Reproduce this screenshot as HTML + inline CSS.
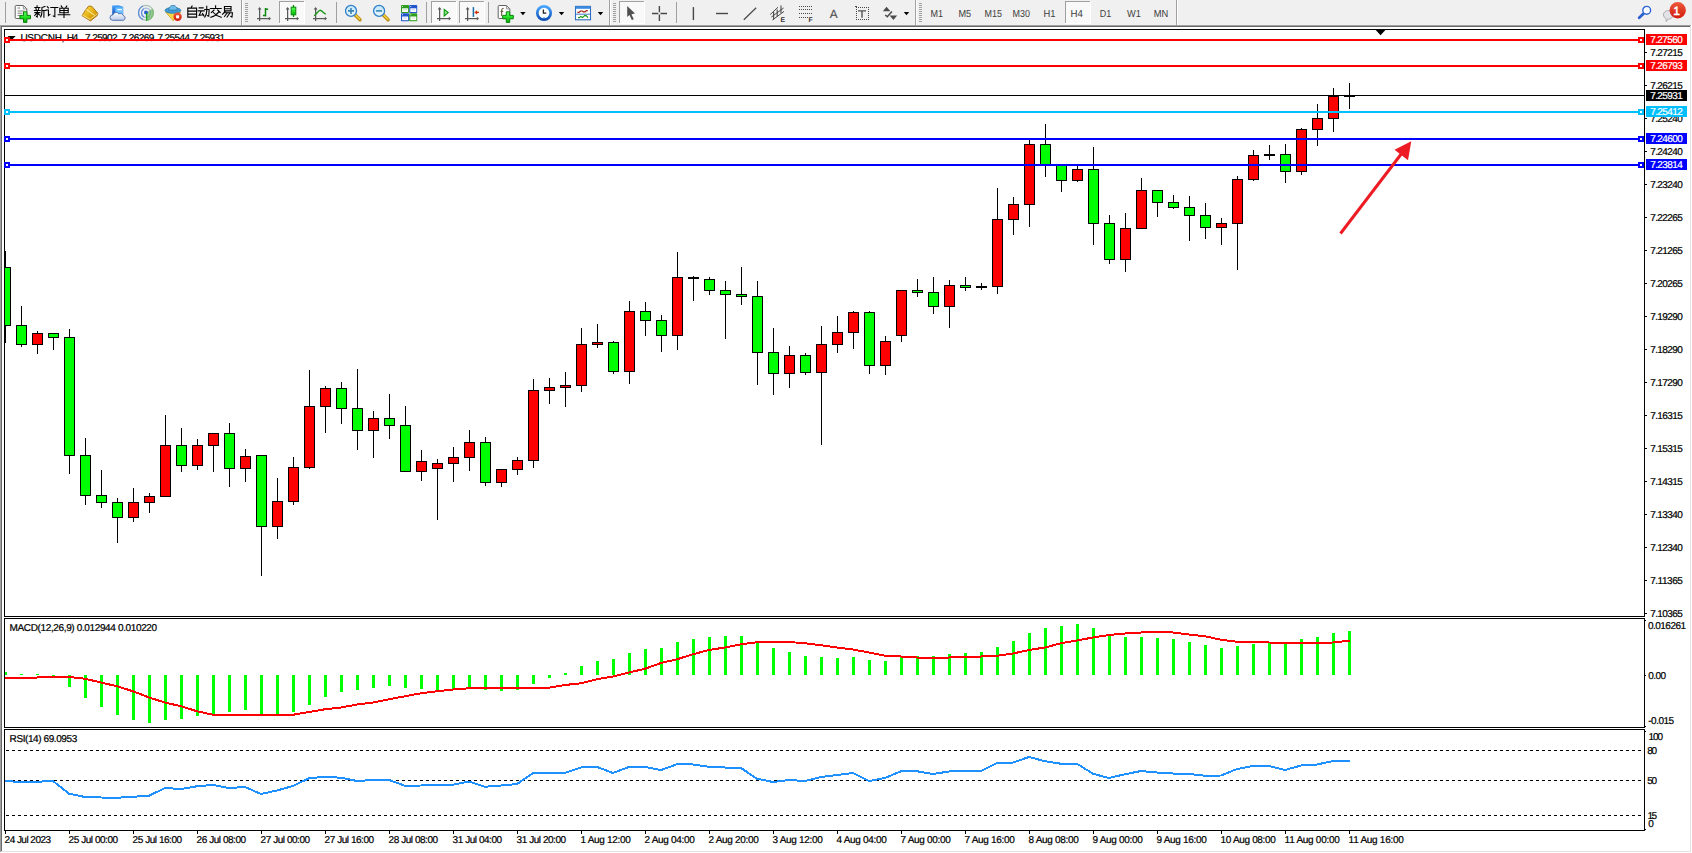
<!DOCTYPE html>
<html><head><meta charset="utf-8"><title>USDCNH,H4</title>
<style>
html,body{margin:0;padding:0;background:#f0f0f0;}
body{width:1692px;height:853px;overflow:hidden;position:relative;font-family:"Liberation Sans",sans-serif;}
svg.chart{position:absolute;left:0;top:0;}
svg.tb{position:absolute;left:0;top:0;}
</style></head><body>
<svg class="chart" width="1692" height="853" viewBox="0 0 1692 853" font-family="Liberation Sans, sans-serif" text-rendering="geometricPrecision">
<rect x="0" y="25" width="1691" height="1" fill="#a0a0a0"/>
<rect x="0" y="25" width="1" height="828" fill="#a0a0a0"/>
<rect x="1" y="26" width="1689" height="1" fill="#696969"/>
<rect x="1" y="26" width="1" height="826" fill="#696969"/>
<rect x="2" y="27" width="1688" height="824" fill="#ffffff"/>
<rect x="1690" y="26" width="1" height="826" fill="#e3e3e3"/>
<rect x="1" y="851" width="1690" height="1" fill="#e3e3e3"/>
<rect x="1691" y="25" width="1" height="828" fill="#ffffff"/>
<rect x="0" y="852" width="1692" height="1" fill="#ffffff"/>
<g shape-rendering="crispEdges">
<rect x="4" y="29" width="1641" height="1" fill="#000"/>
<rect x="4" y="616" width="1641" height="1" fill="#000"/>
<rect x="4" y="29" width="1" height="588" fill="#000"/>
<rect x="1644" y="29" width="1" height="588" fill="#000"/>
<rect x="4" y="618" width="1641" height="1" fill="#000"/>
<rect x="4" y="727" width="1641" height="1" fill="#000"/>
<rect x="4" y="618" width="1" height="110" fill="#000"/>
<rect x="1644" y="618" width="1" height="110" fill="#000"/>
<rect x="4" y="729" width="1641" height="1" fill="#000"/>
<rect x="4" y="830" width="1641" height="1" fill="#000"/>
<rect x="4" y="729" width="1" height="102" fill="#000"/>
<rect x="1644" y="729" width="1" height="102" fill="#000"/>
</g>
<text x="20.4" y="41.0" font-size="10" fill="#000" stroke="#000" stroke-width="0.22" textLength="44" lengthAdjust="spacing">USDCNH,</text>
<text x="66.7" y="41.0" font-size="10" fill="#000" stroke="#000" stroke-width="0.22" textLength="11.6" lengthAdjust="spacing">H4</text>
<text x="85" y="41.0" font-size="10" fill="#000" stroke="#000" stroke-width="0.22" textLength="32.6" lengthAdjust="spacing">7.25902</text>
<text x="121.6" y="41.0" font-size="10" fill="#000" stroke="#000" stroke-width="0.22" textLength="32.6" lengthAdjust="spacing">7.26269</text>
<text x="157.4" y="41.0" font-size="10" fill="#000" stroke="#000" stroke-width="0.22" textLength="32.6" lengthAdjust="spacing">7.25544</text>
<text x="192.5" y="41.0" font-size="10" fill="#000" stroke="#000" stroke-width="0.22" textLength="32.6" lengthAdjust="spacing">7.25931</text>
<path d="M7.6 36h8l-4 4.2z" fill="#000"/>
<g shape-rendering="crispEdges">
<clipPath id="cp"><rect x="5" y="30" width="1639" height="586"/></clipPath>
<g clip-path="url(#cp)">
<rect x="5" y="251" width="1" height="92" fill="#000"/>
<rect x="0" y="267" width="11" height="59" fill="#000"/>
<rect x="1" y="268" width="9" height="57" fill="#00ff00"/>
<rect x="21" y="306" width="1" height="41" fill="#000"/>
<rect x="16" y="325" width="11" height="20" fill="#000"/>
<rect x="17" y="326" width="9" height="18" fill="#00ff00"/>
<rect x="37" y="331" width="1" height="23" fill="#000"/>
<rect x="32" y="333" width="11" height="12" fill="#000"/>
<rect x="33" y="334" width="9" height="10" fill="#ff0000"/>
<rect x="53" y="333" width="1" height="17" fill="#000"/>
<rect x="48" y="333" width="11" height="5" fill="#000"/>
<rect x="49" y="334" width="9" height="3" fill="#00ff00"/>
<rect x="69" y="329" width="1" height="145" fill="#000"/>
<rect x="64" y="337" width="11" height="119" fill="#000"/>
<rect x="65" y="338" width="9" height="117" fill="#00ff00"/>
<rect x="85" y="438" width="1" height="67" fill="#000"/>
<rect x="80" y="455" width="11" height="41" fill="#000"/>
<rect x="81" y="456" width="9" height="39" fill="#00ff00"/>
<rect x="101" y="470" width="1" height="38" fill="#000"/>
<rect x="96" y="495" width="11" height="8" fill="#000"/>
<rect x="97" y="496" width="9" height="6" fill="#00ff00"/>
<rect x="117" y="498" width="1" height="45" fill="#000"/>
<rect x="112" y="502" width="11" height="16" fill="#000"/>
<rect x="113" y="503" width="9" height="14" fill="#00ff00"/>
<rect x="133" y="488" width="1" height="34" fill="#000"/>
<rect x="128" y="502" width="11" height="16" fill="#000"/>
<rect x="129" y="503" width="9" height="14" fill="#ff0000"/>
<rect x="149" y="493" width="1" height="20" fill="#000"/>
<rect x="144" y="496" width="11" height="7" fill="#000"/>
<rect x="145" y="497" width="9" height="5" fill="#ff0000"/>
<rect x="165" y="415" width="1" height="82" fill="#000"/>
<rect x="160" y="445" width="11" height="52" fill="#000"/>
<rect x="161" y="446" width="9" height="50" fill="#ff0000"/>
<rect x="181" y="428" width="1" height="44" fill="#000"/>
<rect x="176" y="445" width="11" height="21" fill="#000"/>
<rect x="177" y="446" width="9" height="19" fill="#00ff00"/>
<rect x="197" y="439" width="1" height="31" fill="#000"/>
<rect x="192" y="445" width="11" height="21" fill="#000"/>
<rect x="193" y="446" width="9" height="19" fill="#ff0000"/>
<rect x="213" y="433" width="1" height="39" fill="#000"/>
<rect x="208" y="433" width="11" height="13" fill="#000"/>
<rect x="209" y="434" width="9" height="11" fill="#ff0000"/>
<rect x="229" y="423" width="1" height="64" fill="#000"/>
<rect x="224" y="433" width="11" height="36" fill="#000"/>
<rect x="225" y="434" width="9" height="34" fill="#00ff00"/>
<rect x="245" y="449" width="1" height="33" fill="#000"/>
<rect x="240" y="456" width="11" height="13" fill="#000"/>
<rect x="241" y="457" width="9" height="11" fill="#ff0000"/>
<rect x="261" y="455" width="1" height="121" fill="#000"/>
<rect x="256" y="455" width="11" height="72" fill="#000"/>
<rect x="257" y="456" width="9" height="70" fill="#00ff00"/>
<rect x="277" y="478" width="1" height="61" fill="#000"/>
<rect x="272" y="501" width="11" height="26" fill="#000"/>
<rect x="273" y="502" width="9" height="24" fill="#ff0000"/>
<rect x="293" y="457" width="1" height="48" fill="#000"/>
<rect x="288" y="467" width="11" height="35" fill="#000"/>
<rect x="289" y="468" width="9" height="33" fill="#ff0000"/>
<rect x="309" y="370" width="1" height="99" fill="#000"/>
<rect x="304" y="406" width="11" height="62" fill="#000"/>
<rect x="305" y="407" width="9" height="60" fill="#ff0000"/>
<rect x="325" y="386" width="1" height="47" fill="#000"/>
<rect x="320" y="388" width="11" height="19" fill="#000"/>
<rect x="321" y="389" width="9" height="17" fill="#ff0000"/>
<rect x="341" y="382" width="1" height="42" fill="#000"/>
<rect x="336" y="388" width="11" height="21" fill="#000"/>
<rect x="337" y="389" width="9" height="19" fill="#00ff00"/>
<rect x="357" y="369" width="1" height="81" fill="#000"/>
<rect x="352" y="408" width="11" height="23" fill="#000"/>
<rect x="353" y="409" width="9" height="21" fill="#00ff00"/>
<rect x="373" y="411" width="1" height="47" fill="#000"/>
<rect x="368" y="418" width="11" height="13" fill="#000"/>
<rect x="369" y="419" width="9" height="11" fill="#ff0000"/>
<rect x="389" y="394" width="1" height="45" fill="#000"/>
<rect x="384" y="418" width="11" height="8" fill="#000"/>
<rect x="385" y="419" width="9" height="6" fill="#00ff00"/>
<rect x="405" y="406" width="1" height="66" fill="#000"/>
<rect x="400" y="425" width="11" height="47" fill="#000"/>
<rect x="401" y="426" width="9" height="45" fill="#00ff00"/>
<rect x="421" y="450" width="1" height="31" fill="#000"/>
<rect x="416" y="461" width="11" height="11" fill="#000"/>
<rect x="417" y="462" width="9" height="9" fill="#ff0000"/>
<rect x="437" y="459" width="1" height="61" fill="#000"/>
<rect x="432" y="463" width="11" height="6" fill="#000"/>
<rect x="433" y="464" width="9" height="4" fill="#ff0000"/>
<rect x="453" y="447" width="1" height="35" fill="#000"/>
<rect x="448" y="457" width="11" height="7" fill="#000"/>
<rect x="449" y="458" width="9" height="5" fill="#ff0000"/>
<rect x="469" y="430" width="1" height="41" fill="#000"/>
<rect x="464" y="442" width="11" height="16" fill="#000"/>
<rect x="465" y="443" width="9" height="14" fill="#ff0000"/>
<rect x="485" y="437" width="1" height="49" fill="#000"/>
<rect x="480" y="442" width="11" height="41" fill="#000"/>
<rect x="481" y="443" width="9" height="39" fill="#00ff00"/>
<rect x="501" y="469" width="1" height="18" fill="#000"/>
<rect x="496" y="469" width="11" height="14" fill="#000"/>
<rect x="497" y="470" width="9" height="12" fill="#ff0000"/>
<rect x="517" y="457" width="1" height="18" fill="#000"/>
<rect x="512" y="460" width="11" height="10" fill="#000"/>
<rect x="513" y="461" width="9" height="8" fill="#ff0000"/>
<rect x="533" y="379" width="1" height="89" fill="#000"/>
<rect x="528" y="390" width="11" height="71" fill="#000"/>
<rect x="529" y="391" width="9" height="69" fill="#ff0000"/>
<rect x="549" y="378" width="1" height="26" fill="#000"/>
<rect x="544" y="387" width="11" height="4" fill="#000"/>
<rect x="545" y="388" width="9" height="2" fill="#ff0000"/>
<rect x="565" y="372" width="1" height="35" fill="#000"/>
<rect x="560" y="385" width="11" height="3" fill="#000"/>
<rect x="561" y="386" width="9" height="1" fill="#ff0000"/>
<rect x="581" y="328" width="1" height="64" fill="#000"/>
<rect x="576" y="344" width="11" height="42" fill="#000"/>
<rect x="577" y="345" width="9" height="40" fill="#ff0000"/>
<rect x="597" y="324" width="1" height="24" fill="#000"/>
<rect x="592" y="342" width="11" height="3" fill="#000"/>
<rect x="593" y="343" width="9" height="1" fill="#ff0000"/>
<rect x="613" y="341" width="1" height="33" fill="#000"/>
<rect x="608" y="342" width="11" height="30" fill="#000"/>
<rect x="609" y="343" width="9" height="28" fill="#00ff00"/>
<rect x="629" y="301" width="1" height="83" fill="#000"/>
<rect x="624" y="311" width="11" height="61" fill="#000"/>
<rect x="625" y="312" width="9" height="59" fill="#ff0000"/>
<rect x="645" y="302" width="1" height="34" fill="#000"/>
<rect x="640" y="311" width="11" height="10" fill="#000"/>
<rect x="641" y="312" width="9" height="8" fill="#00ff00"/>
<rect x="661" y="315" width="1" height="37" fill="#000"/>
<rect x="656" y="320" width="11" height="16" fill="#000"/>
<rect x="657" y="321" width="9" height="14" fill="#00ff00"/>
<rect x="677" y="252" width="1" height="98" fill="#000"/>
<rect x="672" y="277" width="11" height="59" fill="#000"/>
<rect x="673" y="278" width="9" height="57" fill="#ff0000"/>
<rect x="693" y="276" width="1" height="25" fill="#000"/>
<rect x="688" y="277" width="11" height="2" fill="#000"/>
<rect x="709" y="277" width="1" height="18" fill="#000"/>
<rect x="704" y="279" width="11" height="12" fill="#000"/>
<rect x="705" y="280" width="9" height="10" fill="#00ff00"/>
<rect x="725" y="281" width="1" height="58" fill="#000"/>
<rect x="720" y="290" width="11" height="5" fill="#000"/>
<rect x="721" y="291" width="9" height="3" fill="#00ff00"/>
<rect x="741" y="267" width="1" height="38" fill="#000"/>
<rect x="736" y="294" width="11" height="3" fill="#000"/>
<rect x="737" y="295" width="9" height="1" fill="#00ff00"/>
<rect x="757" y="281" width="1" height="104" fill="#000"/>
<rect x="752" y="296" width="11" height="57" fill="#000"/>
<rect x="753" y="297" width="9" height="55" fill="#00ff00"/>
<rect x="773" y="328" width="1" height="67" fill="#000"/>
<rect x="768" y="352" width="11" height="22" fill="#000"/>
<rect x="769" y="353" width="9" height="20" fill="#00ff00"/>
<rect x="789" y="346" width="1" height="42" fill="#000"/>
<rect x="784" y="355" width="11" height="19" fill="#000"/>
<rect x="785" y="356" width="9" height="17" fill="#ff0000"/>
<rect x="805" y="353" width="1" height="22" fill="#000"/>
<rect x="800" y="355" width="11" height="18" fill="#000"/>
<rect x="801" y="356" width="9" height="16" fill="#00ff00"/>
<rect x="821" y="326" width="1" height="119" fill="#000"/>
<rect x="816" y="344" width="11" height="29" fill="#000"/>
<rect x="817" y="345" width="9" height="27" fill="#ff0000"/>
<rect x="837" y="316" width="1" height="37" fill="#000"/>
<rect x="832" y="332" width="11" height="13" fill="#000"/>
<rect x="833" y="333" width="9" height="11" fill="#ff0000"/>
<rect x="853" y="311" width="1" height="38" fill="#000"/>
<rect x="848" y="312" width="11" height="21" fill="#000"/>
<rect x="849" y="313" width="9" height="19" fill="#ff0000"/>
<rect x="869" y="311" width="1" height="63" fill="#000"/>
<rect x="864" y="312" width="11" height="54" fill="#000"/>
<rect x="865" y="313" width="9" height="52" fill="#00ff00"/>
<rect x="885" y="336" width="1" height="39" fill="#000"/>
<rect x="880" y="341" width="11" height="25" fill="#000"/>
<rect x="881" y="342" width="9" height="23" fill="#ff0000"/>
<rect x="901" y="290" width="1" height="52" fill="#000"/>
<rect x="896" y="290" width="11" height="46" fill="#000"/>
<rect x="897" y="291" width="9" height="44" fill="#ff0000"/>
<rect x="917" y="279" width="1" height="18" fill="#000"/>
<rect x="912" y="290" width="11" height="3" fill="#000"/>
<rect x="913" y="291" width="9" height="1" fill="#00ff00"/>
<rect x="933" y="277" width="1" height="37" fill="#000"/>
<rect x="928" y="292" width="11" height="15" fill="#000"/>
<rect x="929" y="293" width="9" height="13" fill="#00ff00"/>
<rect x="949" y="280" width="1" height="48" fill="#000"/>
<rect x="944" y="285" width="11" height="22" fill="#000"/>
<rect x="945" y="286" width="9" height="20" fill="#ff0000"/>
<rect x="965" y="277" width="1" height="14" fill="#000"/>
<rect x="960" y="285" width="11" height="3" fill="#000"/>
<rect x="961" y="286" width="9" height="1" fill="#00ff00"/>
<rect x="981" y="283" width="1" height="7" fill="#000"/>
<rect x="976" y="286" width="11" height="2" fill="#000"/>
<rect x="997" y="188" width="1" height="106" fill="#000"/>
<rect x="992" y="219" width="11" height="68" fill="#000"/>
<rect x="993" y="220" width="9" height="66" fill="#ff0000"/>
<rect x="1013" y="197" width="1" height="38" fill="#000"/>
<rect x="1008" y="204" width="11" height="16" fill="#000"/>
<rect x="1009" y="205" width="9" height="14" fill="#ff0000"/>
<rect x="1029" y="140" width="1" height="87" fill="#000"/>
<rect x="1024" y="144" width="11" height="61" fill="#000"/>
<rect x="1025" y="145" width="9" height="59" fill="#ff0000"/>
<rect x="1045" y="124" width="1" height="53" fill="#000"/>
<rect x="1040" y="144" width="11" height="21" fill="#000"/>
<rect x="1041" y="145" width="9" height="19" fill="#00ff00"/>
<rect x="1061" y="164" width="1" height="28" fill="#000"/>
<rect x="1056" y="164" width="11" height="17" fill="#000"/>
<rect x="1057" y="165" width="9" height="15" fill="#00ff00"/>
<rect x="1077" y="166" width="1" height="16" fill="#000"/>
<rect x="1072" y="169" width="11" height="12" fill="#000"/>
<rect x="1073" y="170" width="9" height="10" fill="#ff0000"/>
<rect x="1093" y="147" width="1" height="98" fill="#000"/>
<rect x="1088" y="169" width="11" height="55" fill="#000"/>
<rect x="1089" y="170" width="9" height="53" fill="#00ff00"/>
<rect x="1109" y="215" width="1" height="49" fill="#000"/>
<rect x="1104" y="223" width="11" height="37" fill="#000"/>
<rect x="1105" y="224" width="9" height="35" fill="#00ff00"/>
<rect x="1125" y="213" width="1" height="59" fill="#000"/>
<rect x="1120" y="228" width="11" height="32" fill="#000"/>
<rect x="1121" y="229" width="9" height="30" fill="#ff0000"/>
<rect x="1141" y="178" width="1" height="51" fill="#000"/>
<rect x="1136" y="190" width="11" height="39" fill="#000"/>
<rect x="1137" y="191" width="9" height="37" fill="#ff0000"/>
<rect x="1157" y="190" width="1" height="27" fill="#000"/>
<rect x="1152" y="190" width="11" height="13" fill="#000"/>
<rect x="1153" y="191" width="9" height="11" fill="#00ff00"/>
<rect x="1173" y="195" width="1" height="14" fill="#000"/>
<rect x="1168" y="202" width="11" height="6" fill="#000"/>
<rect x="1169" y="203" width="9" height="4" fill="#00ff00"/>
<rect x="1189" y="196" width="1" height="45" fill="#000"/>
<rect x="1184" y="207" width="11" height="9" fill="#000"/>
<rect x="1185" y="208" width="9" height="7" fill="#00ff00"/>
<rect x="1205" y="203" width="1" height="36" fill="#000"/>
<rect x="1200" y="215" width="11" height="13" fill="#000"/>
<rect x="1201" y="216" width="9" height="11" fill="#00ff00"/>
<rect x="1221" y="218" width="1" height="27" fill="#000"/>
<rect x="1216" y="223" width="11" height="5" fill="#000"/>
<rect x="1217" y="224" width="9" height="3" fill="#ff0000"/>
<rect x="1237" y="176" width="1" height="94" fill="#000"/>
<rect x="1232" y="179" width="11" height="45" fill="#000"/>
<rect x="1233" y="180" width="9" height="43" fill="#ff0000"/>
<rect x="1253" y="150" width="1" height="31" fill="#000"/>
<rect x="1248" y="155" width="11" height="25" fill="#000"/>
<rect x="1249" y="156" width="9" height="23" fill="#ff0000"/>
<rect x="1269" y="145" width="1" height="15" fill="#000"/>
<rect x="1264" y="154" width="11" height="2" fill="#000"/>
<rect x="1285" y="144" width="1" height="39" fill="#000"/>
<rect x="1280" y="154" width="11" height="18" fill="#000"/>
<rect x="1281" y="155" width="9" height="16" fill="#00ff00"/>
<rect x="1301" y="128" width="1" height="47" fill="#000"/>
<rect x="1296" y="129" width="11" height="43" fill="#000"/>
<rect x="1297" y="130" width="9" height="41" fill="#ff0000"/>
<rect x="1317" y="104" width="1" height="42" fill="#000"/>
<rect x="1312" y="118" width="11" height="12" fill="#000"/>
<rect x="1313" y="119" width="9" height="10" fill="#ff0000"/>
<rect x="1333" y="88" width="1" height="44" fill="#000"/>
<rect x="1328" y="96" width="11" height="23" fill="#000"/>
<rect x="1329" y="97" width="9" height="21" fill="#ff0000"/>
<rect x="1349" y="83" width="1" height="26" fill="#000"/>
<rect x="1344" y="96" width="11" height="1" fill="#000"/>
</g>
<rect x="5" y="95" width="1639" height="1" fill="#000"/>
<rect x="5" y="39" width="1639" height="2" fill="#ff0000"/>
<rect x="4" y="37" width="6" height="6" fill="#ff0000"/>
<rect x="6" y="39" width="2" height="2" fill="#fff"/>
<rect x="1638" y="37" width="6" height="6" fill="#ff0000"/>
<rect x="1640" y="39" width="2" height="2" fill="#fff"/>
<rect x="5" y="65" width="1639" height="2" fill="#ff0000"/>
<rect x="4" y="63" width="6" height="6" fill="#ff0000"/>
<rect x="6" y="65" width="2" height="2" fill="#fff"/>
<rect x="1638" y="63" width="6" height="6" fill="#ff0000"/>
<rect x="1640" y="65" width="2" height="2" fill="#fff"/>
<rect x="5" y="111" width="1639" height="2" fill="#00bfff"/>
<rect x="4" y="109" width="6" height="6" fill="#00bfff"/>
<rect x="6" y="111" width="2" height="2" fill="#fff"/>
<rect x="1638" y="109" width="6" height="6" fill="#00bfff"/>
<rect x="1640" y="111" width="2" height="2" fill="#fff"/>
<rect x="5" y="138" width="1639" height="2" fill="#0000ff"/>
<rect x="4" y="136" width="6" height="6" fill="#0000ff"/>
<rect x="6" y="138" width="2" height="2" fill="#fff"/>
<rect x="1638" y="136" width="6" height="6" fill="#0000ff"/>
<rect x="1640" y="138" width="2" height="2" fill="#fff"/>
<rect x="5" y="164" width="1639" height="2" fill="#0000ff"/>
<rect x="4" y="162" width="6" height="6" fill="#0000ff"/>
<rect x="6" y="164" width="2" height="2" fill="#fff"/>
<rect x="1638" y="162" width="6" height="6" fill="#0000ff"/>
<rect x="1640" y="164" width="2" height="2" fill="#fff"/>
</g>
<path d="M1375.7 30h9.7l-4.85 5.3z" fill="#000"/>
<g shape-rendering="crispEdges">
<rect x="1645" y="52" width="2" height="1" fill="#000"/>
<rect x="1645" y="85" width="2" height="1" fill="#000"/>
<rect x="1645" y="118" width="2" height="1" fill="#000"/>
<rect x="1645" y="151" width="2" height="1" fill="#000"/>
<rect x="1645" y="184" width="2" height="1" fill="#000"/>
<rect x="1645" y="217" width="2" height="1" fill="#000"/>
<rect x="1645" y="250" width="2" height="1" fill="#000"/>
<rect x="1645" y="283" width="2" height="1" fill="#000"/>
<rect x="1645" y="316" width="2" height="1" fill="#000"/>
<rect x="1645" y="349" width="2" height="1" fill="#000"/>
<rect x="1645" y="382" width="2" height="1" fill="#000"/>
<rect x="1645" y="415" width="2" height="1" fill="#000"/>
<rect x="1645" y="448" width="2" height="1" fill="#000"/>
<rect x="1645" y="481" width="2" height="1" fill="#000"/>
<rect x="1645" y="514" width="2" height="1" fill="#000"/>
<rect x="1645" y="547" width="2" height="1" fill="#000"/>
<rect x="1645" y="580" width="2" height="1" fill="#000"/>
<rect x="1645" y="613" width="2" height="1" fill="#000"/>
</g>
<text x="1650.2" y="56.1" font-size="10" fill="#000" stroke="#000" stroke-width="0.22" textLength="32.6" lengthAdjust="spacing">7.27215</text>
<text x="1650.2" y="89.1" font-size="10" fill="#000" stroke="#000" stroke-width="0.22" textLength="32.6" lengthAdjust="spacing">7.26215</text>
<text x="1650.2" y="122.1" font-size="10" fill="#000" stroke="#000" stroke-width="0.22" textLength="32.6" lengthAdjust="spacing">7.25240</text>
<text x="1650.2" y="155.1" font-size="10" fill="#000" stroke="#000" stroke-width="0.22" textLength="32.6" lengthAdjust="spacing">7.24240</text>
<text x="1650.2" y="188.1" font-size="10" fill="#000" stroke="#000" stroke-width="0.22" textLength="32.6" lengthAdjust="spacing">7.23240</text>
<text x="1650.2" y="221.1" font-size="10" fill="#000" stroke="#000" stroke-width="0.22" textLength="32.6" lengthAdjust="spacing">7.22265</text>
<text x="1650.2" y="254.1" font-size="10" fill="#000" stroke="#000" stroke-width="0.22" textLength="32.6" lengthAdjust="spacing">7.21265</text>
<text x="1650.2" y="287.1" font-size="10" fill="#000" stroke="#000" stroke-width="0.22" textLength="32.6" lengthAdjust="spacing">7.20265</text>
<text x="1650.2" y="320.1" font-size="10" fill="#000" stroke="#000" stroke-width="0.22" textLength="32.6" lengthAdjust="spacing">7.19290</text>
<text x="1650.2" y="353.1" font-size="10" fill="#000" stroke="#000" stroke-width="0.22" textLength="32.6" lengthAdjust="spacing">7.18290</text>
<text x="1650.2" y="386.1" font-size="10" fill="#000" stroke="#000" stroke-width="0.22" textLength="32.6" lengthAdjust="spacing">7.17290</text>
<text x="1650.2" y="419.1" font-size="10" fill="#000" stroke="#000" stroke-width="0.22" textLength="32.6" lengthAdjust="spacing">7.16315</text>
<text x="1650.2" y="452.1" font-size="10" fill="#000" stroke="#000" stroke-width="0.22" textLength="32.6" lengthAdjust="spacing">7.15315</text>
<text x="1650.2" y="485.1" font-size="10" fill="#000" stroke="#000" stroke-width="0.22" textLength="32.6" lengthAdjust="spacing">7.14315</text>
<text x="1650.2" y="518.1" font-size="10" fill="#000" stroke="#000" stroke-width="0.22" textLength="32.6" lengthAdjust="spacing">7.13340</text>
<text x="1650.2" y="551.1" font-size="10" fill="#000" stroke="#000" stroke-width="0.22" textLength="32.6" lengthAdjust="spacing">7.12340</text>
<text x="1650.2" y="584.1" font-size="10" fill="#000" stroke="#000" stroke-width="0.22" textLength="32.6" lengthAdjust="spacing">7.11365</text>
<text x="1650.2" y="617.1" font-size="10" fill="#000" stroke="#000" stroke-width="0.22" textLength="32.6" lengthAdjust="spacing">7.10365</text>
<rect x="1646" y="34" width="41" height="11" fill="#ff0000" shape-rendering="crispEdges"/>
<text x="1650.2" y="43.1" font-size="10" fill="#fff" stroke="#fff" stroke-width="0.22" textLength="32.6" lengthAdjust="spacing">7.27560</text>
<rect x="1646" y="60" width="41" height="11" fill="#ff0000" shape-rendering="crispEdges"/>
<text x="1650.2" y="69.1" font-size="10" fill="#fff" stroke="#fff" stroke-width="0.22" textLength="32.6" lengthAdjust="spacing">7.26793</text>
<rect x="1646" y="90" width="41" height="11" fill="#000000" shape-rendering="crispEdges"/>
<text x="1650.2" y="99.1" font-size="10" fill="#fff" stroke="#fff" stroke-width="0.22" textLength="32.6" lengthAdjust="spacing">7.25931</text>
<rect x="1646" y="106" width="41" height="11" fill="#00bfff" shape-rendering="crispEdges"/>
<text x="1650.2" y="115.1" font-size="10" fill="#fff" stroke="#fff" stroke-width="0.22" textLength="32.6" lengthAdjust="spacing">7.25412</text>
<rect x="1646" y="133" width="41" height="11" fill="#0000ff" shape-rendering="crispEdges"/>
<text x="1650.2" y="142.1" font-size="10" fill="#fff" stroke="#fff" stroke-width="0.22" textLength="32.6" lengthAdjust="spacing">7.24600</text>
<rect x="1646" y="159" width="41" height="11" fill="#0000ff" shape-rendering="crispEdges"/>
<text x="1650.2" y="168.1" font-size="10" fill="#fff" stroke="#fff" stroke-width="0.22" textLength="32.6" lengthAdjust="spacing">7.23814</text>
<g stroke="#ed1c24" fill="#ed1c24"><line x1="1340.5" y1="233.5" x2="1402" y2="153" stroke-width="3"/><path d="M1411.3 141.3L1394.5 149.8L1408 160.2z" stroke="none"/></g>
<g shape-rendering="crispEdges">
<rect x="5" y="672" width="2" height="3" fill="#00ff00"/>
<rect x="20" y="674" width="3" height="1" fill="#00ff00"/>
<rect x="36" y="674" width="3" height="1" fill="#00ff00"/>
<rect x="52" y="675" width="3" height="2" fill="#00ff00"/>
<rect x="68" y="675" width="3" height="12" fill="#00ff00"/>
<rect x="84" y="675" width="3" height="23" fill="#00ff00"/>
<rect x="100" y="675" width="3" height="32" fill="#00ff00"/>
<rect x="116" y="675" width="3" height="40" fill="#00ff00"/>
<rect x="132" y="675" width="3" height="45" fill="#00ff00"/>
<rect x="148" y="675" width="3" height="48" fill="#00ff00"/>
<rect x="164" y="675" width="3" height="45" fill="#00ff00"/>
<rect x="180" y="675" width="3" height="44" fill="#00ff00"/>
<rect x="196" y="675" width="3" height="41" fill="#00ff00"/>
<rect x="212" y="675" width="3" height="39" fill="#00ff00"/>
<rect x="228" y="675" width="3" height="37" fill="#00ff00"/>
<rect x="244" y="675" width="3" height="35" fill="#00ff00"/>
<rect x="260" y="675" width="3" height="39" fill="#00ff00"/>
<rect x="276" y="675" width="3" height="39" fill="#00ff00"/>
<rect x="292" y="675" width="3" height="37" fill="#00ff00"/>
<rect x="308" y="675" width="3" height="30" fill="#00ff00"/>
<rect x="324" y="675" width="3" height="22" fill="#00ff00"/>
<rect x="340" y="675" width="3" height="17" fill="#00ff00"/>
<rect x="356" y="675" width="3" height="15" fill="#00ff00"/>
<rect x="372" y="675" width="3" height="13" fill="#00ff00"/>
<rect x="388" y="675" width="3" height="11" fill="#00ff00"/>
<rect x="404" y="675" width="3" height="13" fill="#00ff00"/>
<rect x="420" y="675" width="3" height="14" fill="#00ff00"/>
<rect x="436" y="675" width="3" height="15" fill="#00ff00"/>
<rect x="452" y="675" width="3" height="15" fill="#00ff00"/>
<rect x="468" y="675" width="3" height="14" fill="#00ff00"/>
<rect x="484" y="675" width="3" height="15" fill="#00ff00"/>
<rect x="500" y="675" width="3" height="16" fill="#00ff00"/>
<rect x="516" y="675" width="3" height="15" fill="#00ff00"/>
<rect x="532" y="675" width="3" height="9" fill="#00ff00"/>
<rect x="548" y="675" width="3" height="3" fill="#00ff00"/>
<rect x="564" y="673" width="3" height="2" fill="#00ff00"/>
<rect x="580" y="666" width="3" height="9" fill="#00ff00"/>
<rect x="596" y="661" width="3" height="14" fill="#00ff00"/>
<rect x="612" y="659" width="3" height="16" fill="#00ff00"/>
<rect x="628" y="653" width="3" height="22" fill="#00ff00"/>
<rect x="644" y="649" width="3" height="26" fill="#00ff00"/>
<rect x="660" y="648" width="3" height="27" fill="#00ff00"/>
<rect x="676" y="642" width="3" height="33" fill="#00ff00"/>
<rect x="692" y="639" width="3" height="36" fill="#00ff00"/>
<rect x="708" y="637" width="3" height="38" fill="#00ff00"/>
<rect x="724" y="636" width="3" height="39" fill="#00ff00"/>
<rect x="740" y="636" width="3" height="39" fill="#00ff00"/>
<rect x="756" y="643" width="3" height="32" fill="#00ff00"/>
<rect x="772" y="648" width="3" height="27" fill="#00ff00"/>
<rect x="788" y="652" width="3" height="23" fill="#00ff00"/>
<rect x="804" y="656" width="3" height="19" fill="#00ff00"/>
<rect x="820" y="657" width="3" height="18" fill="#00ff00"/>
<rect x="836" y="658" width="3" height="17" fill="#00ff00"/>
<rect x="852" y="657" width="3" height="18" fill="#00ff00"/>
<rect x="868" y="660" width="3" height="15" fill="#00ff00"/>
<rect x="884" y="661" width="3" height="14" fill="#00ff00"/>
<rect x="900" y="657" width="3" height="18" fill="#00ff00"/>
<rect x="916" y="656" width="3" height="19" fill="#00ff00"/>
<rect x="932" y="656" width="3" height="19" fill="#00ff00"/>
<rect x="948" y="654" width="3" height="21" fill="#00ff00"/>
<rect x="964" y="653" width="3" height="22" fill="#00ff00"/>
<rect x="980" y="652" width="3" height="23" fill="#00ff00"/>
<rect x="996" y="647" width="3" height="28" fill="#00ff00"/>
<rect x="1012" y="641" width="3" height="34" fill="#00ff00"/>
<rect x="1028" y="633" width="3" height="42" fill="#00ff00"/>
<rect x="1044" y="628" width="3" height="47" fill="#00ff00"/>
<rect x="1060" y="626" width="3" height="49" fill="#00ff00"/>
<rect x="1076" y="624" width="3" height="51" fill="#00ff00"/>
<rect x="1092" y="628" width="3" height="47" fill="#00ff00"/>
<rect x="1108" y="634" width="3" height="41" fill="#00ff00"/>
<rect x="1124" y="637" width="3" height="38" fill="#00ff00"/>
<rect x="1140" y="637" width="3" height="38" fill="#00ff00"/>
<rect x="1156" y="638" width="3" height="37" fill="#00ff00"/>
<rect x="1172" y="639" width="3" height="36" fill="#00ff00"/>
<rect x="1188" y="642" width="3" height="33" fill="#00ff00"/>
<rect x="1204" y="645" width="3" height="30" fill="#00ff00"/>
<rect x="1220" y="648" width="3" height="27" fill="#00ff00"/>
<rect x="1236" y="646" width="3" height="29" fill="#00ff00"/>
<rect x="1252" y="644" width="3" height="31" fill="#00ff00"/>
<rect x="1268" y="642" width="3" height="33" fill="#00ff00"/>
<rect x="1284" y="643" width="3" height="32" fill="#00ff00"/>
<rect x="1300" y="639" width="3" height="36" fill="#00ff00"/>
<rect x="1316" y="637" width="3" height="38" fill="#00ff00"/>
<rect x="1332" y="633" width="3" height="42" fill="#00ff00"/>
<rect x="1348" y="631" width="3" height="44" fill="#00ff00"/>
<polyline points="5,678.25 21,678 37,677.5 53,677 69,677 85,678.75 101,682.5 117,686.25 133,691.25 149,697.5 165,702.5 181,706.25 197,711.25 213,714.75 229,714.75 245,714.75 261,714.75 277,714.75 293,714.75 309,712 325,709.25 341,707.5 357,704.5 373,702.5 389,699.25 405,696.25 421,693.25 437,691.25 453,689.5 469,688.25 485,688 501,688 517,688 533,688 549,687.75 565,685 581,683.25 597,679.25 613,676.5 629,672.5 645,668.75 661,663 677,659.25 693,654.25 709,650 725,647.5 741,644.25 757,642.25 773,642 789,642 805,643.25 821,645.25 837,647.5 853,649.5 869,652.5 885,655.75 901,656.5 917,657.5 933,657.5 949,657.5 965,657 981,656.5 997,655.75 1013,653.5 1029,650 1045,647.5 1061,643.25 1077,640.5 1093,637.5 1109,635 1125,633.5 1141,632.5 1157,632 1173,632.5 1189,634.5 1205,636.25 1221,639.75 1237,641.75 1253,642 1269,642.5 1285,642.75 1301,642.75 1317,642.75 1333,642.5 1349,640.75 1350,640.75" fill="none" stroke="#ff0000" stroke-width="2"/>
<rect x="1645" y="620" width="1" height="1" fill="#000"/>
<rect x="1645" y="675" width="1" height="1" fill="#000"/>
<rect x="1645" y="726" width="1" height="1" fill="#000"/>
<rect x="1645" y="731" width="1" height="1" fill="#000"/>
<rect x="1645" y="829" width="1" height="1" fill="#000"/>
</g>
<text x="9.5" y="631.2" font-size="10" fill="#000" stroke="#000" stroke-width="0.22" textLength="147.6" lengthAdjust="spacing">MACD(12,26,9) 0.012944 0.010220</text>
<text x="1648" y="629" font-size="10" fill="#000" stroke="#000" stroke-width="0.22" textLength="38" lengthAdjust="spacing">0.016261</text>
<text x="1648.3" y="679.2" font-size="10" fill="#000" stroke="#000" stroke-width="0.22" textLength="17.7" lengthAdjust="spacing">0.00</text>
<text x="1648.3" y="724.1" font-size="10" fill="#000" stroke="#000" stroke-width="0.22" textLength="25.7" lengthAdjust="spacing">-0.015</text>
<g shape-rendering="crispEdges">
<line x1="6" y1="750.5" x2="1644" y2="750.5" stroke="#000" stroke-width="1" stroke-dasharray="3 3"/>
<line x1="6" y1="780.5" x2="1644" y2="780.5" stroke="#000" stroke-width="1" stroke-dasharray="3 3"/>
<line x1="6" y1="815.5" x2="1644" y2="815.5" stroke="#000" stroke-width="1" stroke-dasharray="3 3"/>
<polyline points="5,781 21,782 37,781.75 53,781 69,793.75 85,797 101,797.5 117,797.75 133,796.75 149,795.75 165,788 181,789 197,786.25 213,785 229,788 245,787 261,794 277,790.5 293,786 309,778.25 325,776.75 341,777.75 357,781 373,780 389,780 405,785.75 421,785.5 437,785 453,784.75 469,781.5 485,786.75 501,785.5 517,784 533,773.25 549,773 565,772.75 581,767.5 597,767 613,773 629,767 645,767 661,770 677,764.25 693,764.5 709,766.75 725,767.5 741,768 757,778.75 773,782 789,780 805,781 821,777 837,775 853,773 869,781 885,778 901,771.25 917,771.25 933,774 949,771.5 965,771 981,771 997,763 1013,762.5 1029,757 1045,761.25 1061,763.75 1077,763.75 1093,773.75 1109,778 1125,774.25 1141,771 1157,772.5 1173,773.5 1189,774 1205,775.75 1221,775.5 1237,769 1253,766 1269,766 1285,770 1301,765.5 1317,764.5 1333,761 1349,760.75 1350,760.75" fill="none" stroke="#1e90ff" stroke-width="2"/>
</g>
<text x="9.6" y="741.8" font-size="10" fill="#000" stroke="#000" stroke-width="0.22" textLength="67.6" lengthAdjust="spacing">RSI(14) 69.0953</text>
<text x="1648.5" y="739.9" font-size="10" fill="#000" stroke="#000" stroke-width="0.22" textLength="14.5" lengthAdjust="spacing">100</text>
<text x="1647.2" y="753.8" font-size="10" fill="#000" stroke="#000" stroke-width="0.22" textLength="9.8" lengthAdjust="spacing">80</text>
<text x="1647.2" y="784" font-size="10" fill="#000" stroke="#000" stroke-width="0.22" textLength="9.8" lengthAdjust="spacing">50</text>
<text x="1647.4" y="818.8" font-size="10" fill="#000" stroke="#000" stroke-width="0.22" textLength="9.6" lengthAdjust="spacing">15</text>
<text x="1648.3" y="827" font-size="10" fill="#000" stroke="#000" stroke-width="0.22">0</text>
<g shape-rendering="crispEdges">
<rect x="5" y="831" width="1" height="3" fill="#000"/>
<rect x="69" y="831" width="1" height="3" fill="#000"/>
<rect x="133" y="831" width="1" height="3" fill="#000"/>
<rect x="197" y="831" width="1" height="3" fill="#000"/>
<rect x="261" y="831" width="1" height="3" fill="#000"/>
<rect x="325" y="831" width="1" height="3" fill="#000"/>
<rect x="389" y="831" width="1" height="3" fill="#000"/>
<rect x="453" y="831" width="1" height="3" fill="#000"/>
<rect x="517" y="831" width="1" height="3" fill="#000"/>
<rect x="581" y="831" width="1" height="3" fill="#000"/>
<rect x="645" y="831" width="1" height="3" fill="#000"/>
<rect x="709" y="831" width="1" height="3" fill="#000"/>
<rect x="773" y="831" width="1" height="3" fill="#000"/>
<rect x="837" y="831" width="1" height="3" fill="#000"/>
<rect x="901" y="831" width="1" height="3" fill="#000"/>
<rect x="965" y="831" width="1" height="3" fill="#000"/>
<rect x="1029" y="831" width="1" height="3" fill="#000"/>
<rect x="1093" y="831" width="1" height="3" fill="#000"/>
<rect x="1157" y="831" width="1" height="3" fill="#000"/>
<rect x="1221" y="831" width="1" height="3" fill="#000"/>
<rect x="1285" y="831" width="1" height="3" fill="#000"/>
<rect x="1349" y="831" width="1" height="3" fill="#000"/>
</g>
<text x="4.6" y="842.8" font-size="10" fill="#000" stroke="#000" stroke-width="0.22" textLength="46.4" lengthAdjust="spacing">24 Jul 2023</text>
<text x="68.6" y="842.8" font-size="10" fill="#000" stroke="#000" stroke-width="0.22" textLength="49.5" lengthAdjust="spacing">25 Jul 00:00</text>
<text x="132.6" y="842.8" font-size="10" fill="#000" stroke="#000" stroke-width="0.22" textLength="49.5" lengthAdjust="spacing">25 Jul 16:00</text>
<text x="196.6" y="842.8" font-size="10" fill="#000" stroke="#000" stroke-width="0.22" textLength="49.5" lengthAdjust="spacing">26 Jul 08:00</text>
<text x="260.6" y="842.8" font-size="10" fill="#000" stroke="#000" stroke-width="0.22" textLength="49.5" lengthAdjust="spacing">27 Jul 00:00</text>
<text x="324.6" y="842.8" font-size="10" fill="#000" stroke="#000" stroke-width="0.22" textLength="49.5" lengthAdjust="spacing">27 Jul 16:00</text>
<text x="388.6" y="842.8" font-size="10" fill="#000" stroke="#000" stroke-width="0.22" textLength="49.5" lengthAdjust="spacing">28 Jul 08:00</text>
<text x="452.6" y="842.8" font-size="10" fill="#000" stroke="#000" stroke-width="0.22" textLength="49.5" lengthAdjust="spacing">31 Jul 04:00</text>
<text x="516.6" y="842.8" font-size="10" fill="#000" stroke="#000" stroke-width="0.22" textLength="49.5" lengthAdjust="spacing">31 Jul 20:00</text>
<text x="580.6" y="842.8" font-size="10" fill="#000" stroke="#000" stroke-width="0.22" textLength="50.2" lengthAdjust="spacing">1 Aug 12:00</text>
<text x="644.6" y="842.8" font-size="10" fill="#000" stroke="#000" stroke-width="0.22" textLength="50.2" lengthAdjust="spacing">2 Aug 04:00</text>
<text x="708.6" y="842.8" font-size="10" fill="#000" stroke="#000" stroke-width="0.22" textLength="50.2" lengthAdjust="spacing">2 Aug 20:00</text>
<text x="772.6" y="842.8" font-size="10" fill="#000" stroke="#000" stroke-width="0.22" textLength="50.2" lengthAdjust="spacing">3 Aug 12:00</text>
<text x="836.6" y="842.8" font-size="10" fill="#000" stroke="#000" stroke-width="0.22" textLength="50.2" lengthAdjust="spacing">4 Aug 04:00</text>
<text x="900.6" y="842.8" font-size="10" fill="#000" stroke="#000" stroke-width="0.22" textLength="50.2" lengthAdjust="spacing">7 Aug 00:00</text>
<text x="964.6" y="842.8" font-size="10" fill="#000" stroke="#000" stroke-width="0.22" textLength="50.2" lengthAdjust="spacing">7 Aug 16:00</text>
<text x="1028.6" y="842.8" font-size="10" fill="#000" stroke="#000" stroke-width="0.22" textLength="50.2" lengthAdjust="spacing">8 Aug 08:00</text>
<text x="1092.6" y="842.8" font-size="10" fill="#000" stroke="#000" stroke-width="0.22" textLength="50.2" lengthAdjust="spacing">9 Aug 00:00</text>
<text x="1156.6" y="842.8" font-size="10" fill="#000" stroke="#000" stroke-width="0.22" textLength="50.2" lengthAdjust="spacing">9 Aug 16:00</text>
<text x="1220.6" y="842.8" font-size="10" fill="#000" stroke="#000" stroke-width="0.22" textLength="55.2" lengthAdjust="spacing">10 Aug 08:00</text>
<text x="1284.6" y="842.8" font-size="10" fill="#000" stroke="#000" stroke-width="0.22" textLength="55.2" lengthAdjust="spacing">11 Aug 00:00</text>
<text x="1348.6" y="842.8" font-size="10" fill="#000" stroke="#000" stroke-width="0.22" textLength="55.2" lengthAdjust="spacing">11 Aug 16:00</text>
</svg>
<svg class="tb" width="1692" height="25" viewBox="0 0 1692 25" font-family="Liberation Sans, sans-serif" text-rendering="geometricPrecision">
<defs><linearGradient id="gGreen" x1="0" y1="0" x2="0" y2="1"><stop offset="0" stop-color="#66ff66"/><stop offset="0.5" stop-color="#22e022"/><stop offset="1" stop-color="#0cb00c"/></linearGradient><linearGradient id="gGold" x1="0" y1="0" x2="1" y2="1"><stop offset="0" stop-color="#ffe14d"/><stop offset="0.6" stop-color="#e0a80c"/><stop offset="1" stop-color="#a86a08"/></linearGradient><linearGradient id="gBlue" x1="0" y1="0" x2="0" y2="1"><stop offset="0" stop-color="#49a6ff"/><stop offset="1" stop-color="#0d4fb5"/></linearGradient><linearGradient id="gRed" x1="0" y1="0" x2="0" y2="1"><stop offset="0" stop-color="#ee5a3c"/><stop offset="1" stop-color="#d21a0c"/></linearGradient><linearGradient id="gCloud" x1="0" y1="0" x2="0" y2="1"><stop offset="0" stop-color="#ffffff"/><stop offset="1" stop-color="#b9c9e6"/></linearGradient><linearGradient id="gLens" x1="0" y1="0" x2="0" y2="1"><stop offset="0" stop-color="#bfe6fb"/><stop offset="1" stop-color="#eaf7fd"/></linearGradient><radialGradient id="gRadar" cx="0.5" cy="0.5" r="0.5"><stop offset="0" stop-color="#2f6fe0"/><stop offset="1" stop-color="#c8dbf5"/></radialGradient></defs>
<rect x="5" y="2" width="1" height="21" fill="#a0a0a0"/>
<path d="M16.2 5.5h7.2l3.4 3.4v8.6a1 1 0 0 1-1 1h-9.6a1 1 0 0 1-1-1v-11a1 1 0 0 1 1-1z" fill="#fdfdfd" stroke="#606060" stroke-width="1"/><path d="M23.4 5.5v3.4h3.4" fill="none" stroke="#8a8a8a" stroke-width="0.9"/><g stroke="#808080" stroke-width="1"><path d="M17.5 8h2.5M17.5 11h7M17.5 13.2h5M17.5 15.4h3"/></g>
<path d="M23.5 11.8h3.4v3.6h3.6v3.4h-3.6v3.6h-3.4v-3.6h-3.6v-3.4h3.6z" fill="url(#gGreen)" stroke="#088308" stroke-width="1"/>
<g><title>新订单</title>
<path transform="translate(34.3 5.9)" d="M2.8 0v1.4M0.5 1.6h5M1.6 2.6l.5 1.6M4.4 2.6l-.5 1.6M0 4.6h6M0.6 6.7h5M3 4.6v6.4l-.9-.5M2.6 7.2L.4 9.6M3.5 7.6L5.4 9.2M10.6.5L7.6 1.7V6.2Q7.6 9 6.4 11M7.6 4.6h4M9.6 4.6V11.2" fill="none" stroke="#000" stroke-width="1.1" stroke-linecap="square" stroke-linejoin="miter"/>
<path transform="translate(46.25 5.9)" d="M1 .8l1.2 1.2M0 4.1h2.2v5.6l1.5-1.2M4.6 1.6h7M8.6 1.6v9.2l-1.6-.7" fill="none" stroke="#000" stroke-width="1.1" stroke-linecap="square" stroke-linejoin="miter"/>
<path transform="translate(58.199999999999996 5.9)" d="M3 0l1 1.6M8.6 0l-1 1.6M1.6 2.4h8.4v4.4h-8.4zM1.6 4.6h8.4M5.8 2.4v9.2M0 8.8h11.6" fill="none" stroke="#000" stroke-width="1.1" stroke-linecap="square" stroke-linejoin="miter"/>
</g>
<path d="M88.6 6.1L91.8 6.3L97.9 13.4L97.2 15.6L90.4 20.9L82 15.6Q85 10.4 88.6 6.1z" fill="url(#gGold)" stroke="#a8700c" stroke-width="0.9"/><path d="M82.4 15L90 19.4L97.4 13.8" fill="none" stroke="#fff0a0" stroke-width="0.8"/><path d="M86.4 9.6L94.6 15.2" fill="none" stroke="#fff6c0" stroke-width="1.2" opacity="0.7"/>
<path d="M112.2 5.6l6.4-.4l4.6 1.6v8h-11z" fill="url(#gBlue)"/><path d="M115.4 7.4h7.6v7.4h-7.6z" fill="#6cc0ff"/><path d="M117.4 9.6h4.4" stroke="#fff" stroke-width="1.2"/><path d="M112.6 20.3a2.7 2.7 0 0 1 .3-5.4a3.3 3.3 0 0 1 6-1a3 3 0 0 1 4.3 1.6a2.5 2.5 0 0 1 .2 4.8z" fill="url(#gCloud)" stroke="#4668ad" stroke-width="0.9"/>
<g fill="none" stroke-width="1.2"><circle cx="146" cy="12.8" r="7.4" stroke="#a9c4b4"/><circle cx="146" cy="12.8" r="4.6" stroke="#9db8dc"/><path d="M143 19.6A7.4 7.4 0 0 1 143 6" stroke="#5f8be0"/><path d="M144 16.9A4.6 4.6 0 0 1 144 8.7" stroke="#5f8be0"/></g><path d="M146 12.8L146.6 20.8A8 8 0 0 0 152.6 8.4z" fill="#57b04a" opacity="0.6"/><circle cx="146" cy="12.6" r="2" fill="#2a5fd6"/><path d="M146.6 13v7.8" stroke="#22a022" stroke-width="1.3"/>
<path d="M165.6 12l15 0L173.2 20.8z" fill="#f7d84a" stroke="#c9a21a" stroke-width="0.8"/><ellipse cx="172.9" cy="10.4" rx="7.9" ry="2.9" fill="#3f9ad6" stroke="#2a78b0" stroke-width="0.8"/><path d="M168.8 10.2C168.4 3.8 177.6 3.8 177.2 10.2z" fill="#6fbce8" stroke="#2a78b0" stroke-width="0.8"/><circle cx="177.6" cy="16.8" r="4.2" fill="url(#gRed)"/><rect x="176.1" y="15.3" width="3" height="3" fill="#fff"/>
<g><title>自动交易</title>
<path transform="translate(186.3 5.9)" d="M5.8 0l-1 1.8M1.5 2.2h8.8v9h-8.8zM1.5 5.2h8.8M1.5 8.2h8.8" fill="none" stroke="#000" stroke-width="1.1" stroke-linecap="square" stroke-linejoin="miter"/>
<path transform="translate(198.15 5.9)" d="M1 2h4M0 5h6M3 5L1 9.4l4.4-.5M4.4 7.6l1.2 2.2M6.6 3.6h4.4l-.4 6.8-1.2-.5M8.6.4v4.6Q8.4 9 6.6 11.2" fill="none" stroke="#000" stroke-width="1.1" stroke-linecap="square" stroke-linejoin="miter"/>
<path transform="translate(210.0 5.9)" d="M5.6 0v1.6M.4 2.6h10.8M4 4.1L1.4 6.6M7.6 4.1l2.6 2.5M8.6 6.2Q6 10 .8 11.4M3.4 6.6Q6 10 11.2 11.4" fill="none" stroke="#000" stroke-width="1.1" stroke-linecap="square" stroke-linejoin="miter"/>
<path transform="translate(221.85000000000002 5.9)" d="M2.6 .6h6.6v4.4h-6.6zM2.6 2.8h6.6M3.4 5.4L.6 8.4M2.8 6.8h7.8l-.5 4.4-1.1-.5M5.6 6.8L2.6 10.6M8.2 6.8L5.2 11.2" fill="none" stroke="#000" stroke-width="1.1" stroke-linecap="square" stroke-linejoin="miter"/>
</g>
<rect x="241" y="0" width="1" height="25" fill="#a0a0a0"/><rect x="242" y="0" width="1" height="25" fill="#ffffff"/>
<rect x="245" y="3" width="3" height="1" fill="#a0a0a0"/>
<rect x="245" y="5" width="3" height="1" fill="#a0a0a0"/>
<rect x="245" y="7" width="3" height="1" fill="#a0a0a0"/>
<rect x="245" y="9" width="3" height="1" fill="#a0a0a0"/>
<rect x="245" y="11" width="3" height="1" fill="#a0a0a0"/>
<rect x="245" y="13" width="3" height="1" fill="#a0a0a0"/>
<rect x="245" y="15" width="3" height="1" fill="#a0a0a0"/>
<rect x="245" y="17" width="3" height="1" fill="#a0a0a0"/>
<rect x="245" y="19" width="3" height="1" fill="#a0a0a0"/>
<rect x="245" y="21" width="3" height="1" fill="#a0a0a0"/>
<g stroke="#585858" stroke-width="1.25" fill="none"><path d="M259.6 8V21"/><path d="M257 18.6H269.6"/></g><path d="M257.70000000000005 9.4L259.6 6.9L261.5 9.4z" fill="#585858"/><path d="M268.8 16.7L271 18.6L268.8 20.5z" fill="#585858"/>
<path d="M265.5 8V16.6M265.5 9.2h2.6M262.9 15.5h2.6" fill="none" stroke="#0a8a0a" stroke-width="1.5"/>
<rect x="279" y="1" width="25" height="22" fill="#f9f9f9"/><rect x="279" y="1" width="25" height="1" fill="#a0a0a0"/><rect x="279" y="1" width="1" height="22" fill="#a0a0a0"/><rect x="279" y="23" width="26" height="1" fill="#ffffff"/><rect x="304" y="1" width="1" height="23" fill="#ffffff"/>
<g stroke="#585858" stroke-width="1.25" fill="none"><path d="M287.6 8V21"/><path d="M285 18.6H297.6"/></g><path d="M285.70000000000005 9.4L287.6 6.9L289.5 9.4z" fill="#585858"/><path d="M296.8 16.7L299 18.6L296.8 20.5z" fill="#585858"/>
<path d="M293.5 5v12" stroke="#0a8a0a" stroke-width="1.3"/><rect x="291.2" y="7.2" width="4.6" height="7.6" fill="url(#gGreen)" stroke="#0a8a0a" stroke-width="1"/>
<g stroke="#585858" stroke-width="1.25" fill="none"><path d="M315.6 8V21"/><path d="M313 18.6H325.6"/></g><path d="M313.70000000000005 9.4L315.6 6.9L317.5 9.4z" fill="#585858"/><path d="M324.8 16.7L327 18.6L324.8 20.5z" fill="#585858"/>
<path d="M314.2 15.8C317 13.5 318.6 10.2 320.2 10.3C322 10.4 323.4 13.4 325.8 14.2" fill="none" stroke="#1a9a1a" stroke-width="1.4"/>
<rect x="336" y="2" width="1" height="21" fill="#a0a0a0"/>
<path d="M355 14.8l5 5" stroke="#b8860b" stroke-width="3.4" stroke-linecap="round"/><path d="M355.2 14.6l4.6 4.6" stroke="#f0d040" stroke-width="1.6" stroke-linecap="round"/><circle cx="351" cy="10.9" r="5.5" fill="url(#gLens)" stroke="#2f7ec9" stroke-width="1.3"/>
<path d="M348 10.9h6M351 7.9v6" stroke="#3a85b5" stroke-width="1.6"/>
<path d="M383.1 14.8l5 5" stroke="#b8860b" stroke-width="3.4" stroke-linecap="round"/><path d="M383.3 14.6l4.6 4.6" stroke="#f0d040" stroke-width="1.6" stroke-linecap="round"/><circle cx="379.1" cy="10.9" r="5.5" fill="url(#gLens)" stroke="#2f7ec9" stroke-width="1.3"/>
<path d="M376.1 10.9h6" stroke="#3a85b5" stroke-width="1.6"/>
<rect x="401" y="5" width="8" height="8" rx="0.8" fill="#2e9e1e"/><rect x="402.1" y="8.3" width="6" height="3.7" fill="#fff"/><rect x="402" y="6" width="1" height="1" fill="#fff" opacity=".8"/><rect x="403.4" y="9.4" width="3.6" height="0.8" fill="#2e9e1e" opacity=".35"/>
<rect x="409.2" y="5" width="8" height="8" rx="0.8" fill="#2255cc"/><rect x="410.3" y="8.3" width="6" height="3.7" fill="#fff"/><rect x="410.2" y="6" width="1" height="1" fill="#fff" opacity=".8"/><rect x="411.59999999999997" y="9.4" width="3.6" height="0.8" fill="#2255cc" opacity=".35"/>
<rect x="401" y="13.2" width="8" height="8" rx="0.8" fill="#2255cc"/><rect x="402.1" y="16.5" width="6" height="3.7" fill="#fff"/><rect x="402" y="14.2" width="1" height="1" fill="#fff" opacity=".8"/><rect x="403.4" y="17.6" width="3.6" height="0.8" fill="#2255cc" opacity=".35"/>
<rect x="409.2" y="13.2" width="8" height="8" rx="0.8" fill="#2e9e1e"/><rect x="410.3" y="16.5" width="6" height="3.7" fill="#fff"/><rect x="410.2" y="14.2" width="1" height="1" fill="#fff" opacity=".8"/><rect x="411.59999999999997" y="17.6" width="3.6" height="0.8" fill="#2e9e1e" opacity=".35"/>
<rect x="426" y="2" width="1" height="21" fill="#a0a0a0"/>
<rect x="431" y="1" width="25" height="22" fill="#f9f9f9"/><rect x="431" y="1" width="25" height="1" fill="#a0a0a0"/><rect x="431" y="1" width="1" height="22" fill="#a0a0a0"/><rect x="431" y="23" width="26" height="1" fill="#ffffff"/><rect x="456" y="1" width="1" height="23" fill="#ffffff"/>
<g stroke="#585858" stroke-width="1.25" fill="none"><path d="M439.6 8V21"/><path d="M437 18.6H449.6"/></g><path d="M437.70000000000005 9.4L439.6 6.9L441.5 9.4z" fill="#585858"/><path d="M448.8 16.7L451 18.6L448.8 20.5z" fill="#585858"/>
<path d="M444.2 9.3L448.2 12.6L444.2 16z" fill="#8de88d" stroke="#0a9a0a" stroke-width="1.1"/>
<rect x="459" y="1" width="25" height="22" fill="#f9f9f9"/><rect x="459" y="1" width="25" height="1" fill="#a0a0a0"/><rect x="459" y="1" width="1" height="22" fill="#a0a0a0"/><rect x="459" y="23" width="26" height="1" fill="#ffffff"/><rect x="484" y="1" width="1" height="23" fill="#ffffff"/>
<g stroke="#585858" stroke-width="1.25" fill="none"><path d="M467.6 8V21"/><path d="M465 18.6H477.6"/></g><path d="M465.70000000000005 9.4L467.6 6.9L469.5 9.4z" fill="#585858"/><path d="M476.8 16.7L479 18.6L476.8 20.5z" fill="#585858"/>
<path d="M473.4 7.1v9.8" stroke="#1a6ea8" stroke-width="1.5"/><path d="M479 12.4h-3.4" stroke="#cc3300" stroke-width="1.3"/><path d="M474.3 12.4l2.8-2.2v4.4z" fill="#cc3300"/>
<rect x="488" y="2" width="1" height="21" fill="#a0a0a0"/>
<path d="M499.2 5.5h7.2l3.4 3.4v8.6a1 1 0 0 1-1 1h-9.6a1 1 0 0 1-1-1v-11a1 1 0 0 1 1-1z" fill="#fdfdfd" stroke="#606060" stroke-width="1"/><path d="M506.4 5.5v3.4h3.4" fill="none" stroke="#8a8a8a" stroke-width="0.9"/><path d="M503.6 8.4q-1.8-.4-1.9 1.6v6M500.6 11.4h2.6" fill="none" stroke="#5a4a2a" stroke-width="1"/>
<path d="M506.3 11.8h3.4v3.6h3.6v3.4h-3.6v3.6h-3.4v-3.6h-3.6v-3.4h3.6z" fill="url(#gGreen)" stroke="#088308" stroke-width="1"/>
<path d="M520.2 12h5.4l-2.7 3.2z" fill="#000"/>
<circle cx="544" cy="13" r="6.7" fill="#fdfdfd" stroke="url(#gBlue)" stroke-width="2.7"/><path d="M543.4 9.6v3.6h2.9" fill="none" stroke="#222" stroke-width="1.3"/><path d="M544 17.4h0.01" stroke="#49a6ff" stroke-width="1.4" stroke-linecap="round"/>
<path d="M558.8 12h5.4l-2.7 3.2z" fill="#000"/>
<rect x="575.5" y="6.4" width="15" height="13.4" fill="#fff" stroke="#2e6ec0" stroke-width="1.1"/><rect x="575.5" y="6.4" width="15" height="2.4" fill="#3d8be0"/><path d="M576 14.2h14" stroke="#2e6ec0" stroke-width="0.9"/><path d="M577.4 12.4h1.6l1.6-1.4h1.6l1.2.8h1.6l1.6-1.2h1.2" fill="none" stroke="#a02010" stroke-width="1.2"/><path d="M578 17.6h1.4l1.4-1.2l1.8 1.2l2.2-2.2l1.6.4l1.6 1.8" fill="none" stroke="#1a9a1a" stroke-width="1.2"/>
<path d="M597.8 12h5.4l-2.7 3.2z" fill="#000"/>
<rect x="609" y="0" width="1" height="25" fill="#a0a0a0"/><rect x="610" y="0" width="1" height="25" fill="#ffffff"/>
<rect x="613" y="3" width="3" height="1" fill="#a0a0a0"/>
<rect x="613" y="5" width="3" height="1" fill="#a0a0a0"/>
<rect x="613" y="7" width="3" height="1" fill="#a0a0a0"/>
<rect x="613" y="9" width="3" height="1" fill="#a0a0a0"/>
<rect x="613" y="11" width="3" height="1" fill="#a0a0a0"/>
<rect x="613" y="13" width="3" height="1" fill="#a0a0a0"/>
<rect x="613" y="15" width="3" height="1" fill="#a0a0a0"/>
<rect x="613" y="17" width="3" height="1" fill="#a0a0a0"/>
<rect x="613" y="19" width="3" height="1" fill="#a0a0a0"/>
<rect x="613" y="21" width="3" height="1" fill="#a0a0a0"/>
<rect x="619" y="1" width="25" height="22" fill="#f9f9f9"/><rect x="619" y="1" width="25" height="1" fill="#a0a0a0"/><rect x="619" y="1" width="1" height="22" fill="#a0a0a0"/><rect x="619" y="23" width="26" height="1" fill="#ffffff"/><rect x="644" y="1" width="1" height="23" fill="#ffffff"/>
<path d="M627.2 5.9V16.9L629.5 15L631.8 20.1L633.8 19.2L631.4 14.2L635 13.6z" fill="#505050"/>
<path d="M659.4 5.9v6.4M659.4 14.6v6.4M652 13.5h6.3M660.5 13.5h6.5" stroke="#484848" stroke-width="1.4"/>
<rect x="676" y="2" width="1" height="21" fill="#a0a0a0"/>
<path d="M693.4 7.1v13" stroke="#484848" stroke-width="1.4"/>
<path d="M716 13.5h12" stroke="#484848" stroke-width="1.4"/>
<path d="M743.8 19.8L756.2 7.7" stroke="#484848" stroke-width="1.2"/>
<g stroke="#484848" fill="none"><path d="M770.2 14.6L778 7.2M771.4 17L783.6 8M772.4 20L784 11.4" stroke-width="1"/><path d="M773.6 12v7.4M777.2 9.4v7.4M781 5.4v7.6" stroke-width="1.1"/></g>
<text x="780.6" y="21.9" font-size="6.8" font-weight="bold" fill="#333">E</text>
<rect x="799" y="6" width="1" height="1" fill="#484848"/>
<rect x="801" y="6" width="1" height="1" fill="#484848"/>
<rect x="803" y="6" width="1" height="1" fill="#484848"/>
<rect x="805" y="6" width="1" height="1" fill="#484848"/>
<rect x="807" y="6" width="1" height="1" fill="#484848"/>
<rect x="809" y="6" width="1" height="1" fill="#484848"/>
<rect x="811" y="6" width="1" height="1" fill="#484848"/>
<rect x="799" y="9" width="1" height="1" fill="#484848"/>
<rect x="801" y="9" width="1" height="1" fill="#484848"/>
<rect x="803" y="9" width="1" height="1" fill="#484848"/>
<rect x="805" y="9" width="1" height="1" fill="#484848"/>
<rect x="807" y="9" width="1" height="1" fill="#484848"/>
<rect x="809" y="9" width="1" height="1" fill="#484848"/>
<rect x="811" y="9" width="1" height="1" fill="#484848"/>
<rect x="799" y="13" width="1" height="1" fill="#484848"/>
<rect x="801" y="13" width="1" height="1" fill="#484848"/>
<rect x="803" y="13" width="1" height="1" fill="#484848"/>
<rect x="805" y="13" width="1" height="1" fill="#484848"/>
<rect x="807" y="13" width="1" height="1" fill="#484848"/>
<rect x="809" y="13" width="1" height="1" fill="#484848"/>
<rect x="811" y="13" width="1" height="1" fill="#484848"/>
<rect x="799" y="17" width="1" height="1" fill="#484848"/>
<rect x="801" y="17" width="1" height="1" fill="#484848"/>
<rect x="803" y="17" width="1" height="1" fill="#484848"/>
<rect x="805" y="17" width="1" height="1" fill="#484848"/>
<rect x="807" y="17" width="1" height="1" fill="#484848"/>
<text x="808.6" y="21.9" font-size="6.8" font-weight="bold" fill="#333">F</text>
<text x="829.7" y="18" font-size="11.8" fill="#505050" stroke="#505050" stroke-width="0.15">A</text>
<rect x="856" y="7" width="1" height="1" fill="#484848"/><rect x="856" y="19" width="1" height="1" fill="#484848"/>
<rect x="858" y="7" width="1" height="1" fill="#484848"/><rect x="858" y="19" width="1" height="1" fill="#484848"/>
<rect x="860" y="7" width="1" height="1" fill="#484848"/><rect x="860" y="19" width="1" height="1" fill="#484848"/>
<rect x="862" y="7" width="1" height="1" fill="#484848"/><rect x="862" y="19" width="1" height="1" fill="#484848"/>
<rect x="864" y="7" width="1" height="1" fill="#484848"/><rect x="864" y="19" width="1" height="1" fill="#484848"/>
<rect x="866" y="7" width="1" height="1" fill="#484848"/><rect x="866" y="19" width="1" height="1" fill="#484848"/>
<rect x="868" y="7" width="1" height="1" fill="#484848"/><rect x="868" y="19" width="1" height="1" fill="#484848"/>
<rect x="856" y="9" width="1" height="1" fill="#484848"/><rect x="868" y="9" width="1" height="1" fill="#484848"/>
<rect x="856" y="11" width="1" height="1" fill="#484848"/><rect x="868" y="11" width="1" height="1" fill="#484848"/>
<rect x="856" y="13" width="1" height="1" fill="#484848"/><rect x="868" y="13" width="1" height="1" fill="#484848"/>
<rect x="856" y="15" width="1" height="1" fill="#484848"/><rect x="868" y="15" width="1" height="1" fill="#484848"/>
<rect x="856" y="17" width="1" height="1" fill="#484848"/><rect x="868" y="17" width="1" height="1" fill="#484848"/>
<rect x="855" y="6" width="2" height="1" fill="#484848"/>
<path d="M858 10.9h8M862 10.9v6.8" stroke="#505050" stroke-width="1.35" fill="none"/>
<path d="M882.8 11.2L886.6 6.8L890.4 11.2z" fill="#4c4c4c"/><path d="M889.6 15.5L893.4 20L897.2 15.5z" fill="#4c4c4c"/><path d="M885.2 15L887.3 16.7L891.9 11.5" fill="none" stroke="#4c4c4c" stroke-width="1.5"/>
<path d="M903.8 12h5.4l-2.7 3.2z" fill="#000"/>
<rect x="915" y="0" width="1" height="25" fill="#a0a0a0"/><rect x="916" y="0" width="1" height="25" fill="#ffffff"/>
<rect x="919" y="3" width="3" height="1" fill="#a0a0a0"/>
<rect x="919" y="5" width="3" height="1" fill="#a0a0a0"/>
<rect x="919" y="7" width="3" height="1" fill="#a0a0a0"/>
<rect x="919" y="9" width="3" height="1" fill="#a0a0a0"/>
<rect x="919" y="11" width="3" height="1" fill="#a0a0a0"/>
<rect x="919" y="13" width="3" height="1" fill="#a0a0a0"/>
<rect x="919" y="15" width="3" height="1" fill="#a0a0a0"/>
<rect x="919" y="17" width="3" height="1" fill="#a0a0a0"/>
<rect x="919" y="19" width="3" height="1" fill="#a0a0a0"/>
<rect x="919" y="21" width="3" height="1" fill="#a0a0a0"/>
<rect x="1065" y="1" width="25" height="22" fill="#f9f9f9"/><rect x="1065" y="1" width="25" height="1" fill="#a0a0a0"/><rect x="1065" y="1" width="1" height="22" fill="#a0a0a0"/><rect x="1065" y="23" width="26" height="1" fill="#ffffff"/><rect x="1090" y="1" width="1" height="23" fill="#ffffff"/>
<text x="930.5" y="17" font-size="10.2" fill="#404040" textLength="12.5" lengthAdjust="spacingAndGlyphs">M1</text>
<text x="958.5" y="17" font-size="10.2" fill="#404040" textLength="12.7" lengthAdjust="spacingAndGlyphs">M5</text>
<text x="984.6" y="17" font-size="10.2" fill="#404040" textLength="17.4" lengthAdjust="spacingAndGlyphs">M15</text>
<text x="1012.6" y="17" font-size="10.2" fill="#404040" textLength="17.4" lengthAdjust="spacingAndGlyphs">M30</text>
<text x="1043.4" y="17" font-size="10.2" fill="#404040" textLength="12" lengthAdjust="spacingAndGlyphs">H1</text>
<text x="1070.4" y="17" font-size="10.2" fill="#404040" textLength="12.4" lengthAdjust="spacingAndGlyphs">H4</text>
<text x="1099.8" y="17" font-size="10.2" fill="#404040" textLength="11.5" lengthAdjust="spacingAndGlyphs">D1</text>
<text x="1127" y="17" font-size="10.2" fill="#404040" textLength="13.8" lengthAdjust="spacingAndGlyphs">W1</text>
<text x="1153.8" y="17" font-size="10.2" fill="#404040" textLength="14.5" lengthAdjust="spacingAndGlyphs">MN</text>
<rect x="1176" y="0" width="1" height="25" fill="#a0a0a0"/><rect x="1177" y="0" width="1" height="25" fill="#ffffff"/>
<path d="M1643.6 13.6L1639.2 17.8" stroke="#2a5fd0" stroke-width="2.8" stroke-linecap="round"/><circle cx="1646.7" cy="10.3" r="3.9" fill="#fafcff" stroke="#2a62d4" stroke-width="1.4"/>
<path d="M1663.4 15a4.9 4.3 0 1 1 4.4 4.1l-1.6 2.6l-.3-3.2a4.9 4.3 0 0 1-2.5-3.5z" fill="#e2e2e8" stroke="#a9a9ad" stroke-width="0.9"/><circle cx="1677.7" cy="10.3" r="8.2" fill="url(#gRed)"/><text x="1676.6" y="14.8" font-size="12" fill="#fff" stroke="#fff" stroke-width="0.5" text-anchor="middle">1</text><rect x="1674" y="13.8" width="5" height="1" fill="#fff"/>
</svg>
</body></html>
